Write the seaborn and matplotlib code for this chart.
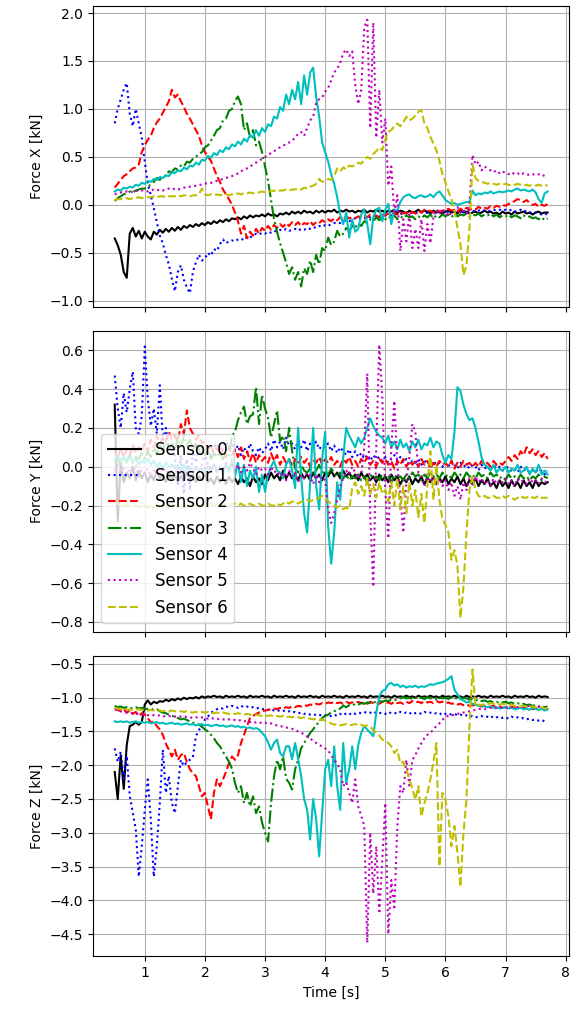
import numpy as np
import matplotlib
matplotlib.use("Agg")
import matplotlib.pyplot as plt
import seaborn as sns

# sample times [s], one reading every 0.05 s
time = np.linspace(0.5, 7.7, 145)

sensor_names = ["Sensor 0", "Sensor 1", "Sensor 2", "Sensor 3", "Sensor 4", "Sensor 5", "Sensor 6"]

### Force X [kN] ###
fx_s0 = [-0.35, -0.42, -0.52, -0.70, -0.76, -0.30, -0.24, -0.33, -0.27, -0.35,
         -0.28, -0.33, -0.36, -0.28, -0.31, -0.26, -0.29, -0.25, -0.28, -0.24,
         -0.27, -0.23, -0.26, -0.22, -0.24, -0.21, -0.23, -0.20, -0.22, -0.19,
         -0.21, -0.18, -0.20, -0.17, -0.19, -0.16, -0.18, -0.15, -0.17, -0.14,
         -0.15, -0.13, -0.15, -0.12, -0.14, -0.11, -0.13, -0.11, -0.12, -0.10,
         -0.12, -0.09, -0.11, -0.10, -0.12, -0.09, -0.10, -0.08, -0.10, -0.07,
         -0.09, -0.07, -0.09, -0.06, -0.08, -0.07, -0.09, -0.06, -0.08, -0.06,
         -0.08, -0.06, -0.07, -0.05, -0.08, -0.06, -0.07, -0.05, -0.07, -0.06,
         -0.08, -0.06, -0.07, -0.05, -0.08, -0.06, -0.07, -0.05, -0.07, -0.06,
         -0.08, -0.06, -0.07, -0.05, -0.08, -0.06, -0.07, -0.09, -0.06, -0.08,
         -0.07, -0.05, -0.08, -0.06, -0.07, -0.09, -0.06, -0.08, -0.07, -0.09,
         -0.07, -0.06, -0.08, -0.07, -0.09, -0.06, -0.08, -0.07, -0.09, -0.08,
         -0.07, -0.09, -0.08, -0.06, -0.08, -0.07, -0.09, -0.08, -0.10, -0.07,
         -0.09, -0.08, -0.10, -0.07, -0.09, -0.08, -0.07, -0.09, -0.08, -0.10,
         -0.08, -0.07, -0.09, -0.08, -0.08]
fx_s1 = [0.85, 1.00, 1.10, 1.20, 1.27, 0.95, 0.82, 1.00, 0.85, 0.70,
         0.45, 0.22, 0.10, -0.03, -0.18, -0.32, -0.40, -0.52, -0.62, -0.77,
         -0.90, -0.70, -0.63, -0.78, -0.86, -0.92, -0.70, -0.60, -0.52, -0.58,
         -0.56, -0.50, -0.53, -0.46, -0.48, -0.41, -0.36, -0.40, -0.38, -0.37,
         -0.38, -0.36, -0.35, -0.37, -0.33, -0.34, -0.32, -0.30, -0.31, -0.29,
         -0.30, -0.28, -0.29, -0.27, -0.28, -0.26, -0.27, -0.25, -0.27, -0.26,
         -0.25, -0.27, -0.25, -0.26, -0.24, -0.25, -0.23, -0.24, -0.22, -0.23,
         -0.21, -0.22, -0.20, -0.19, -0.18, -0.19, -0.17, -0.16, -0.17, -0.15,
         -0.14, -0.15, -0.13, -0.14, -0.12, -0.13, -0.12, -0.11, -0.12, -0.11,
         -0.11, -0.10, -0.11, -0.09, -0.10, -0.09, -0.10, -0.08, -0.09, -0.08,
         -0.09, -0.08, -0.07, -0.09, -0.08, -0.07, -0.08, -0.07, -0.08, -0.07,
         -0.08, -0.07, -0.06, -0.07, -0.06, -0.08, -0.07, -0.06, -0.07, -0.06,
         -0.07, -0.06, -0.05, -0.06, -0.07, -0.06, -0.05, -0.06, -0.05, -0.06,
         -0.05, -0.06, -0.05, -0.07, -0.06, -0.05, -0.07, -0.06, -0.08, -0.07,
         -0.08, -0.09, -0.10, -0.09, -0.10]
fx_s2 = [0.18, 0.22, 0.26, 0.30, 0.32, 0.35, 0.38, 0.39, 0.42, 0.55,
         0.62, 0.68, 0.72, 0.80, 0.86, 0.90, 0.96, 1.02, 1.08, 1.20,
         1.12, 1.15, 1.08, 1.02, 0.95, 0.90, 0.84, 0.78, 0.72, 0.62,
         0.55, 0.50, 0.46, 0.38, 0.30, 0.24, 0.16, 0.11, 0.06, 0.00,
         -0.08, -0.17, -0.30, -0.22, -0.35, -0.28, -0.32, -0.25, -0.30, -0.24,
         -0.27, -0.22, -0.26, -0.21, -0.24, -0.20, -0.23, -0.19, -0.22, -0.18,
         -0.21, -0.18, -0.22, -0.19, -0.20, -0.17, -0.21, -0.18, -0.19, -0.16,
         -0.18, -0.15, -0.17, -0.14, -0.16, -0.13, -0.15, -0.12, -0.14, -0.13,
         -0.14, -0.12, -0.13, -0.11, -0.13, -0.10, -0.12, -0.11, -0.13, -0.10,
         -0.11, -0.09, -0.10, -0.08, -0.10, -0.07, -0.09, -0.08, -0.10, -0.07,
         -0.09, -0.06, -0.08, -0.05, -0.07, -0.06, -0.08, -0.05, -0.07, -0.06,
         -0.06, -0.04, -0.06, -0.05, -0.07, -0.04, -0.06, -0.03, -0.05, -0.04,
         -0.05, -0.02, -0.04, -0.03, -0.04, -0.01, -0.03, -0.01, -0.02, 0.00,
         -0.01, 0.01, 0.02, 0.04, 0.06, 0.05, 0.03, 0.05, 0.02, 0.00,
         0.01, -0.02, 0.00, -0.01, 0.01]
fx_s3 = [0.04, 0.07, 0.09, 0.11, 0.12, 0.14, 0.13, 0.15, 0.16, 0.17,
         0.17, 0.19, 0.21, 0.24, 0.28, 0.26, 0.31, 0.30, 0.35, 0.34,
         0.38, 0.37, 0.41, 0.40, 0.45, 0.44, 0.48, 0.50, 0.53, 0.55,
         0.60, 0.62, 0.67, 0.72, 0.78, 0.80, 0.88, 0.90, 0.98, 1.00,
         1.08, 1.13, 1.05, 0.78, 0.85, 0.70, 0.78, 0.62, 0.66, 0.55,
         0.40, 0.25, 0.05, -0.15, -0.28, -0.40, -0.50, -0.60, -0.72, -0.65,
         -0.78, -0.70, -0.85, -0.66, -0.72, -0.58, -0.70, -0.52, -0.62, -0.45,
         -0.48, -0.34, -0.42, -0.38, -0.27, -0.33, -0.30, -0.24, -0.27, -0.22,
         -0.24, -0.19, -0.22, -0.17, -0.19, -0.15, -0.17, -0.13, -0.16, -0.12,
         -0.15, -0.12, -0.14, -0.11, -0.15, -0.12, -0.14, -0.11, -0.13, -0.12,
         -0.15, -0.12, -0.14, -0.11, -0.13, -0.10, -0.14, -0.11, -0.13, -0.10,
         -0.12, -0.10, -0.13, -0.09, -0.12, -0.10, -0.11, -0.09, -0.12, -0.10,
         -0.11, -0.09, -0.12, -0.10, -0.11, -0.09, -0.12, -0.10, -0.13, -0.11,
         -0.12, -0.10, -0.13, -0.11, -0.12, -0.14, -0.11, -0.13, -0.12, -0.14,
         -0.13, -0.15, -0.13, -0.16, -0.14]
fx_s4 = [0.14, 0.16, 0.15, 0.18, 0.17, 0.19, 0.18, 0.21, 0.20, 0.23,
         0.22, 0.25, 0.24, 0.27, 0.26, 0.29, 0.28, 0.31, 0.30, 0.34,
         0.33, 0.36, 0.35, 0.39, 0.37, 0.41, 0.40, 0.44, 0.42, 0.47,
         0.46, 0.51, 0.49, 0.54, 0.52, 0.57, 0.55, 0.60, 0.58, 0.63,
         0.61, 0.66, 0.63, 0.69, 0.66, 0.73, 0.70, 0.78, 0.72, 0.80,
         0.76, 0.84, 0.82, 0.92, 0.90, 1.02, 0.98, 1.15, 1.05, 1.20,
         1.10, 1.28, 1.05, 1.35, 1.15, 1.38, 1.43, 1.13, 0.92, 0.65,
         0.55, 0.45, 0.32, 0.22, 0.08, -0.10, -0.20, -0.08, -0.34, -0.15,
         -0.28, -0.25, -0.10, -0.05, -0.20, -0.41, -0.13, -0.05, -0.03, -0.17,
         -0.05, 0.01, -0.20, -0.05, -0.06, 0.03, 0.08, 0.10, 0.11, 0.08,
         0.07, 0.09, 0.10, 0.08, 0.09, 0.11, 0.08, 0.12, 0.14, 0.10,
         0.05, 0.03, 0.01, 0.02, 0.00, 0.01, 0.02, 0.03, 0.03, 0.15,
         0.10, 0.12, 0.11, 0.13, 0.12, 0.14, 0.12, 0.13, 0.14, 0.13,
         0.14, 0.15, 0.14, 0.16, 0.17, 0.15, 0.16, 0.15, 0.14, 0.16,
         0.13, 0.06, 0.02, 0.12, 0.14]
fx_s5 = [0.11, 0.12, 0.13, 0.13, 0.14, 0.13, 0.14, 0.15, 0.14, 0.15,
         0.15, 0.14, 0.15, 0.16, 0.15, 0.16, 0.15, 0.16, 0.17, 0.16,
         0.17, 0.16, 0.17, 0.18, 0.18, 0.19, 0.19, 0.20, 0.21, 0.21,
         0.22, 0.23, 0.23, 0.24, 0.25, 0.26, 0.27, 0.28, 0.29, 0.30,
         0.31, 0.33, 0.35, 0.37, 0.38, 0.40, 0.42, 0.44, 0.46, 0.48,
         0.50, 0.52, 0.54, 0.56, 0.58, 0.60, 0.62, 0.63, 0.65, 0.67,
         0.70, 0.74, 0.76, 0.72, 0.80, 0.88, 0.92, 1.06, 1.10, 1.12,
         1.18, 1.22, 1.30, 1.38, 1.42, 1.48, 1.58, 1.62, 1.55, 1.60,
         1.25, 1.05, 1.20, 1.85, 1.93, 0.80, 1.90, 0.70, 1.20, 0.65,
         0.90, 0.20, 0.40, -0.10, 0.10, -0.48, -0.15, -0.38, -0.10, -0.45,
         -0.25, -0.45, -0.15, -0.48, -0.20, -0.40, -0.13, -0.05, -0.10, -0.05,
         -0.07, -0.12, -0.08, -0.05, -0.02, -0.08, -0.05, -0.10, 0.00, 0.52,
         0.42, 0.45, 0.36, 0.40, 0.38, 0.36, 0.34, 0.36, 0.33, 0.35,
         0.33, 0.32, 0.34, 0.32, 0.33, 0.31, 0.33, 0.32, 0.31, 0.32,
         0.31, 0.32, 0.30, 0.31, 0.30]
fx_s6 = [0.05, 0.06, 0.06, 0.06, 0.07, 0.06, 0.07, 0.07, 0.08, 0.07,
         0.08, 0.08, 0.08, 0.09, 0.08, 0.09, 0.09, 0.08, 0.09, 0.09,
         0.09, 0.10, 0.09, 0.10, 0.10, 0.09, 0.10, 0.10, 0.11, 0.17,
         0.11, 0.10, 0.11, 0.10, 0.11, 0.10, 0.11, 0.11, 0.10, 0.11,
         0.11, 0.12, 0.11, 0.12, 0.12, 0.13, 0.12, 0.13, 0.13, 0.14,
         0.13, 0.14, 0.14, 0.15, 0.14, 0.15, 0.15, 0.16, 0.15, 0.16,
         0.16, 0.17, 0.16, 0.18, 0.17, 0.19, 0.20, 0.22, 0.27, 0.24,
         0.25, 0.27, 0.26, 0.30, 0.38, 0.35, 0.39, 0.37, 0.41, 0.40,
         0.42, 0.44, 0.43, 0.47, 0.50, 0.48, 0.53, 0.56, 0.60, 0.57,
         0.68, 0.76, 0.78, 0.82, 0.85, 0.82, 0.86, 0.92, 0.88, 0.90,
         0.93, 0.97, 0.99, 0.85, 0.80, 0.71, 0.64, 0.57, 0.46, 0.32,
         0.24, 0.14, 0.06, -0.06, -0.24, -0.41, -0.73, -0.63, -0.24, 0.42,
         0.28, 0.25, 0.24, 0.23, 0.22, 0.23, 0.22, 0.21, 0.22, 0.21,
         0.22, 0.21, 0.20, 0.21, 0.22, 0.21, 0.20, 0.21, 0.20, 0.21,
         0.20, 0.21, 0.20, 0.21, 0.20]

### Force Y [kN] ###
fy_s0 = [0.32, -0.28, 0.02, -0.08, -0.03, -0.06, 0.00, -0.07, -0.02, -0.06,
         -0.03, -0.08, -0.04, -0.07, -0.02, -0.06, -0.04, -0.08, -0.03, -0.07,
         -0.04, -0.08, -0.05, -0.07, -0.03, -0.06, -0.04, -0.08, -0.05, -0.07,
         -0.04, -0.08, -0.06, -0.09, -0.05, -0.08, -0.06, -0.09, -0.05, -0.08,
         -0.06, -0.09, -0.05, -0.08, -0.06, -0.10, -0.05, -0.08, -0.06, -0.09,
         -0.04, -0.07, -0.03, -0.06, -0.04, -0.07, -0.02, -0.06, -0.03, -0.06,
         -0.04, -0.07, -0.03, -0.06, -0.04, -0.07, -0.03, -0.06, -0.04, -0.07,
         -0.03, -0.05, -0.02, -0.05, -0.03, -0.06, -0.02, -0.05, -0.03, -0.06,
         -0.04, -0.07, -0.03, -0.06, -0.04, -0.07, -0.05, -0.08, -0.04, -0.07,
         -0.05, -0.08, -0.04, -0.07, -0.05, -0.09, -0.06, -0.08, -0.05, -0.09,
         -0.06, -0.08, -0.05, -0.09, -0.06, -0.08, -0.05, -0.09, -0.06, -0.08,
         -0.05, -0.09, -0.06, -0.08, -0.05, -0.09, -0.06, -0.10, -0.07, -0.09,
         -0.06, -0.10, -0.07, -0.09, -0.06, -0.10, -0.08, -0.11, -0.07, -0.10,
         -0.08, -0.11, -0.07, -0.10, -0.08, -0.11, -0.07, -0.10, -0.08, -0.11,
         -0.07, -0.10, -0.08, -0.09, -0.08]
fy_s1 = [0.47, 0.30, 0.20, 0.38, 0.28, 0.40, 0.49, 0.20, 0.17, 0.26,
         0.62, 0.35, 0.21, 0.30, 0.17, 0.42, 0.14, 0.20, 0.08, 0.12,
         0.05, -0.10, 0.06, -0.14, 0.04, -0.12, 0.08, 0.02, 0.09, 0.05,
         0.03, 0.08, 0.06, 0.10, 0.12, 0.09, 0.11, 0.13, 0.10, 0.12,
         0.08, 0.11, 0.06, 0.10, 0.07, 0.12, 0.08, 0.06, 0.10, 0.07,
         0.09, 0.12, 0.08, 0.14, 0.10, 0.13, 0.09, 0.15, 0.11, 0.12,
         0.09, 0.13, 0.10, 0.14, 0.08, 0.12, 0.10, 0.13, 0.09, 0.11,
         0.10, 0.12, 0.08, 0.11, 0.07, 0.10, 0.08, 0.06, 0.09, 0.05,
         0.08, 0.05, 0.07, 0.04, 0.06, 0.03, 0.06, 0.04, 0.05, 0.03,
         0.05, 0.02, 0.04, 0.06, 0.03, 0.05, 0.02, 0.04, 0.01, 0.03,
         0.02, 0.04, 0.01, 0.03, 0.02, 0.00, 0.03, 0.01, 0.02, 0.00,
         0.02, 0.00, 0.03, 0.01, -0.01, 0.02, 0.00, 0.01, -0.01, 0.01,
         0.00, -0.02, 0.01, -0.01, 0.00, -0.02, 0.01, -0.01, 0.00, -0.02,
         -0.01, 0.00, -0.02, -0.01, -0.03, 0.00, -0.02, -0.01, -0.03, -0.02,
         -0.01, -0.03, -0.02, -0.04, -0.02]
fy_s2 = [0.08, 0.04, 0.10, 0.05, 0.09, 0.06, 0.11, 0.07, 0.10, 0.08,
         0.12, 0.08, 0.14, 0.10, 0.16, 0.12, 0.15, 0.13, 0.18, 0.14,
         0.16, 0.13, 0.22, 0.17, 0.29, 0.20, 0.17, 0.14, 0.16, 0.12,
         0.13, 0.09, 0.11, 0.07, 0.10, 0.06, 0.09, 0.05, 0.10, 0.06,
         0.09, 0.05, 0.10, 0.04, 0.08, 0.03, 0.07, 0.02, 0.06, 0.03,
         0.05, 0.02, 0.07, 0.03, 0.06, 0.01, 0.05, 0.02, 0.04, 0.01,
         0.04, 0.01, 0.05, 0.02, 0.04, 0.00, 0.03, 0.02, 0.05, 0.01,
         0.04, 0.02, 0.05, 0.01, 0.03, 0.00, 0.04, 0.02, 0.05, 0.01,
         0.03, 0.00, 0.04, 0.02, 0.05, 0.01, 0.03, 0.00, 0.04, 0.02,
         0.04, 0.01, 0.03, -0.01, 0.03, 0.01, 0.04, 0.00, 0.03, 0.01,
         0.03, 0.00, 0.04, 0.01, 0.03, -0.01, 0.02, 0.00, 0.03, 0.01,
         0.02, 0.00, 0.03, -0.01, 0.02, 0.00, 0.03, 0.01, 0.02, 0.00,
         0.02, 0.00, 0.03, 0.01, 0.02, 0.00, 0.03, 0.01, 0.02, 0.01,
         0.03, 0.05, 0.03, 0.06, 0.04, 0.08, 0.06, 0.10, 0.07, 0.09,
         0.06, 0.08, 0.05, 0.07, 0.04]
fy_s3 = [0.02, 0.04, 0.01, 0.05, 0.03, 0.06, 0.02, 0.05, 0.04, 0.07,
         0.04, 0.08, 0.05, 0.10, 0.06, 0.12, 0.08, 0.14, 0.09, 0.12,
         0.08, 0.15, 0.10, 0.16, 0.11, 0.14, 0.08, 0.12, 0.07, 0.10,
         0.06, 0.09, 0.04, 0.07, 0.05, 0.08, 0.04, 0.06, 0.05, 0.16,
         0.18, 0.24, 0.28, 0.31, 0.22, 0.26, 0.27, 0.41, 0.22, 0.37,
         0.30, 0.25, 0.15, 0.22, 0.29, 0.13, 0.16, 0.08, 0.20, 0.08,
         -0.01, -0.03, 0.01, -0.02, -0.03, -0.01, -0.04, -0.02, 0.01, -0.03,
         -0.02, -0.04, -0.01, -0.03, -0.05, -0.03, -0.06, -0.04, -0.07, -0.05,
         -0.06, -0.04, -0.07, -0.05, -0.08, -0.04, -0.06, -0.05, -0.07, -0.04,
         -0.06, -0.05, -0.08, -0.04, -0.06, -0.05, -0.07, -0.04, -0.06, -0.03,
         -0.05, -0.04, -0.07, -0.04, -0.06, -0.03, -0.05, -0.04, -0.06, -0.03,
         -0.05, -0.04, -0.06, -0.03, -0.05, -0.04, -0.06, -0.03, -0.05, -0.04,
         -0.06, -0.03, -0.05, -0.04, -0.06, -0.03, -0.05, -0.04, -0.06, -0.05,
         -0.07, -0.04, -0.06, -0.05, -0.07, -0.04, -0.06, -0.05, -0.07, -0.05,
         -0.06, -0.04, -0.07, -0.05, -0.06]
fy_s4 = [0.04, 0.06, 0.03, 0.05, 0.02, 0.05, 0.03, 0.04, 0.01, 0.03,
         0.02, 0.04, 0.01, 0.03, 0.00, 0.02, -0.01, 0.02, 0.00, 0.01,
         -0.01, 0.01, -0.02, 0.01, -0.02, 0.00, -0.03, 0.00, -0.02, -0.01,
         -0.03, 0.00, -0.02, 0.01, -0.03, 0.00, -0.04, 0.02, -0.03, 0.04,
         -0.05, 0.02, -0.08, 0.01, -0.10, -0.02, -0.06, 0.00, -0.13, -0.04,
         -0.13, -0.04, 0.00, 0.03, -0.02, -0.03, -0.06, 0.01, 0.04, -0.02,
         -0.11, 0.20, -0.05, -0.24, -0.34, -0.08, 0.20, -0.10, -0.22, 0.04,
         0.18, -0.31, -0.50, -0.34, -0.08, -0.17, 0.05, 0.20, 0.16, 0.13,
         0.10, 0.15, 0.12, 0.15, 0.20, 0.25, 0.21, 0.18, 0.16, 0.15,
         0.12, 0.16, 0.10, 0.13, 0.09, 0.14, 0.10, 0.12, 0.08, 0.13,
         0.10, 0.14, 0.09, 0.12, 0.11, 0.15, 0.10, 0.13, 0.12, 0.06,
         0.02, 0.06, 0.04, 0.18, 0.41, 0.39, 0.32, 0.27, 0.24, 0.25,
         0.20, 0.13, 0.05, 0.01, 0.00, -0.02, 0.01, -0.03, -0.01, -0.02,
         0.00, -0.03, -0.01, -0.02, 0.01, -0.03, -0.02, 0.00, -0.04, -0.01,
         -0.03, 0.01, -0.04, -0.02, -0.04]
fy_s5 = [-0.02, 0.01, -0.03, 0.00, -0.04, -0.01, -0.03, 0.01, -0.05, -0.02,
         -0.04, -0.01, -0.05, -0.02, -0.04, 0.00, -0.03, -0.01, -0.05, -0.02,
         -0.04, -0.01, -0.05, -0.02, -0.04, -0.01, -0.03, 0.00, -0.02, 0.01,
         -0.01, 0.02, -0.02, 0.01, -0.03, 0.00, -0.02, 0.02, -0.01, 0.01,
         -0.02, 0.01, -0.03, 0.00, -0.02, 0.02, -0.01, -0.04, 0.00, -0.02,
         -0.01, -0.04, 0.00, -0.03, -0.02, -0.05, -0.03, -0.07, -0.02, -0.05,
         -0.03, -0.08, -0.04, -0.06, -0.03, -0.05, -0.09, -0.04, -0.08, -0.05,
         -0.07, -0.22, -0.29, -0.24, -0.17, -0.10, -0.06, -0.02, -0.04, 0.00,
         -0.03, -0.06, -0.04, 0.10, 0.48, -0.25, -0.62, 0.10, 0.63, 0.36,
         -0.13, -0.37, 0.10, 0.34, 0.01, -0.15, -0.34, -0.08, 0.05, 0.22,
         0.18, -0.03, -0.06, -0.10, -0.04, -0.08, -0.05, -0.09, -0.06, -0.10,
         -0.07, -0.12, -0.08, -0.15, -0.10, -0.17, -0.08, -0.12, -0.06, -0.10,
         -0.05, -0.08, -0.06, -0.09, -0.07, -0.10, -0.06, -0.09, -0.07, -0.08,
         -0.06, -0.09, -0.07, -0.10, -0.06, -0.08, -0.07, -0.09, -0.06, -0.08,
         -0.07, -0.09, -0.06, -0.08, -0.07]
fy_s6 = [-0.18, -0.19, -0.20, -0.19, -0.20, -0.20, -0.21, -0.20, -0.21, -0.20,
         -0.20, -0.21, -0.20, -0.21, -0.20, -0.20, -0.21, -0.20, -0.21, -0.20,
         -0.20, -0.21, -0.20, -0.21, -0.20, -0.20, -0.19, -0.20, -0.19, -0.20,
         -0.19, -0.20, -0.19, -0.20, -0.20, -0.19, -0.20, -0.19, -0.20, -0.19,
         -0.19, -0.20, -0.19, -0.20, -0.20, -0.19, -0.20, -0.20, -0.19, -0.20,
         -0.20, -0.19, -0.20, -0.20, -0.19, -0.20, -0.19, -0.18, -0.19, -0.18,
         -0.18, -0.19, -0.18, -0.18, -0.17, -0.18, -0.17, -0.17, -0.16, -0.15,
         -0.16, -0.18, -0.19, -0.20, -0.21, -0.20, -0.22, -0.21, -0.22, -0.11,
         -0.08, -0.14, -0.10, -0.15, -0.06, -0.14, -0.09, -0.16, -0.08, -0.14,
         -0.12, -0.18, -0.08, -0.20, -0.06, -0.22, -0.10, -0.24, -0.08, -0.20,
         -0.12, -0.26, -0.14, -0.29, -0.10, 0.08, -0.17, 0.01, -0.17, -0.27,
         -0.30, -0.34, -0.48, -0.43, -0.51, -0.78, -0.62, -0.34, -0.12, -0.05,
         -0.12, -0.15, -0.16, -0.15, -0.16, -0.16, -0.15, -0.16, -0.16, -0.15,
         -0.16, -0.15, -0.16, -0.17, -0.16, -0.15, -0.16, -0.16, -0.15, -0.16,
         -0.16, -0.15, -0.16, -0.16, -0.16]

### Force Z [kN] ###
fz_s0 = [-2.10, -2.50, -1.85, -2.35, -1.70, -1.42, -1.40, -1.36, -1.40, -1.36,
         -1.10, -1.04, -1.10, -1.06, -1.08, -1.05, -1.06, -1.03, -1.05, -1.02,
         -1.04, -1.01, -1.03, -1.00, -1.02, -1.00, -1.01, -0.99, -1.01, -0.98,
         -1.00, -0.98, -0.99, -0.97, -0.99, -0.98, -1.00, -0.97, -0.99, -0.98,
         -0.99, -0.97, -0.99, -0.98, -1.00, -0.97, -0.99, -0.98, -0.99, -0.97,
         -0.99, -0.98, -1.00, -0.97, -0.99, -0.98, -0.99, -0.97, -0.99, -0.98,
         -1.00, -0.97, -0.99, -0.98, -0.99, -0.97, -0.99, -0.98, -1.00, -0.97,
         -0.99, -0.98, -0.99, -0.97, -0.99, -0.98, -1.00, -0.97, -0.99, -0.98,
         -0.99, -0.97, -0.99, -0.98, -1.00, -0.97, -0.99, -0.98, -0.99, -0.97,
         -0.99, -0.98, -1.00, -0.97, -0.99, -0.98, -0.99, -0.97, -0.99, -0.98,
         -1.00, -0.97, -0.99, -0.98, -0.99, -0.97, -0.99, -0.98, -1.00, -0.97,
         -0.99, -0.98, -0.99, -0.97, -0.99, -0.98, -1.00, -0.97, -0.99, -0.98,
         -0.99, -0.97, -0.99, -0.98, -1.00, -0.97, -0.99, -0.98, -0.99, -0.97,
         -0.99, -0.98, -1.00, -0.97, -0.99, -0.98, -0.99, -0.97, -0.99, -0.98,
         -1.00, -0.97, -0.99, -0.98, -0.99]
fz_s1 = [-1.75, -1.95, -1.80, -2.20, -1.86, -2.45, -2.70, -2.95, -3.65, -3.20,
         -2.66, -2.21, -2.80, -3.65, -3.20, -2.56, -1.77, -2.41, -2.16, -2.56,
         -2.71, -2.31, -1.92, -2.01, -1.95, -1.92, -1.88, -1.57, -1.48, -1.42,
         -1.32, -1.28, -1.22, -1.20, -1.17, -1.15, -1.16, -1.13, -1.14, -1.12,
         -1.13, -1.15, -1.12, -1.14, -1.13, -1.15, -1.14, -1.16, -1.15, -1.17,
         -1.16, -1.18, -1.17, -1.19, -1.18, -1.20, -1.19, -1.21, -1.20, -1.22,
         -1.21, -1.23, -1.22, -1.24, -1.23, -1.25, -1.24, -1.26, -1.25, -1.27,
         -1.26, -1.28, -1.27, -1.25, -1.27, -1.24, -1.26, -1.23, -1.25, -1.22,
         -1.24, -1.22, -1.23, -1.21, -1.23, -1.22, -1.24, -1.21, -1.23, -1.22,
         -1.24, -1.21, -1.23, -1.22, -1.24, -1.21, -1.23, -1.22, -1.24, -1.21,
         -1.23, -1.22, -1.24, -1.21, -1.23, -1.22, -1.24, -1.23, -1.25, -1.22,
         -1.24, -1.23, -1.25, -1.24, -1.26, -1.25, -1.27, -1.26, -1.28, -1.27,
         -1.29, -1.28, -1.27, -1.29, -1.28, -1.30, -1.27, -1.29, -1.28, -1.30,
         -1.29, -1.31, -1.28, -1.30, -1.29, -1.31, -1.30, -1.32, -1.31, -1.33,
         -1.32, -1.34, -1.33, -1.35, -1.34]
fz_s2 = [-1.15, -1.18, -1.20, -1.17, -1.22, -1.19, -1.24, -1.21, -1.27, -1.23,
         -1.25, -1.30, -1.37, -1.35, -1.42, -1.47, -1.55, -1.68, -1.77, -1.87,
         -1.77, -1.92, -1.85, -1.82, -1.95, -2.06, -2.12, -2.16, -2.31, -2.46,
         -2.41, -2.61, -2.80, -2.41, -2.21, -2.31, -2.21, -2.10, -1.97, -1.87,
         -1.92, -1.85, -1.67, -1.55, -1.42, -1.30, -1.27, -1.24, -1.22, -1.20,
         -1.19, -1.18, -1.17, -1.16, -1.17, -1.15, -1.16, -1.14, -1.15, -1.13,
         -1.14, -1.12, -1.13, -1.11, -1.12, -1.10, -1.11, -1.09, -1.10, -1.08,
         -1.09, -1.07, -1.08, -1.06, -1.08, -1.07, -1.09, -1.06, -1.08, -1.07,
         -1.08, -1.06, -1.08, -1.07, -1.09, -1.06, -1.08, -1.07, -1.09, -1.06,
         -1.08, -1.07, -1.09, -1.06, -1.08, -1.07, -1.09, -1.06, -1.08, -1.05,
         -1.07, -1.06, -1.08, -1.05, -1.07, -1.06, -1.08, -1.05, -1.07, -1.06,
         -1.08, -1.07, -1.09, -1.08, -1.10, -1.09, -1.11, -1.10, -1.12, -1.11,
         -1.12, -1.11, -1.13, -1.12, -1.14, -1.13, -1.12, -1.14, -1.13, -1.15,
         -1.14, -1.13, -1.15, -1.14, -1.16, -1.15, -1.14, -1.16, -1.15, -1.17,
         -1.16, -1.15, -1.17, -1.16, -1.18]
fz_s3 = [-1.12, -1.14, -1.13, -1.15, -1.14, -1.16, -1.15, -1.14, -1.16, -1.15,
         -1.16, -1.17, -1.16, -1.18, -1.17, -1.20, -1.22, -1.23, -1.25, -1.27,
         -1.28, -1.30, -1.32, -1.31, -1.33, -1.35, -1.37, -1.37, -1.40, -1.43,
         -1.47, -1.50, -1.55, -1.60, -1.67, -1.72, -1.80, -1.87, -1.95, -2.05,
         -2.26, -2.41, -2.31, -2.56, -2.41, -2.61, -2.46, -2.71, -2.61, -2.85,
         -3.00, -3.13, -2.56, -2.16, -1.92, -2.06, -1.87, -2.20, -2.26, -2.36,
         -2.06, -1.92, -1.75, -1.67, -1.60, -1.52, -1.47, -1.40, -1.37, -1.30,
         -1.27, -1.25, -1.22, -1.20, -1.18, -1.16, -1.12, -1.14, -1.11, -1.12,
         -1.09, -1.10, -1.08, -1.09, -1.07, -1.08, -1.06, -1.07, -1.05, -1.06,
         -1.04, -1.05, -1.03, -1.04, -1.02, -1.01, -0.99, -1.01, -1.00, -1.02,
         -0.99, -1.01, -1.00, -1.02, -0.99, -1.01, -1.00, -1.02, -0.99, -1.01,
         -1.00, -1.02, -0.99, -1.01, -1.00, -1.02, -1.00, -1.01, -1.03, -1.02,
         -1.04, -1.03, -1.05, -1.04, -1.06, -1.05, -1.07, -1.06, -1.08, -1.07,
         -1.06, -1.08, -1.07, -1.09, -1.08, -1.10, -1.09, -1.11, -1.10, -1.12,
         -1.11, -1.13, -1.12, -1.14, -1.13]
fz_s4 = [-1.35, -1.36, -1.35, -1.36, -1.35, -1.37, -1.36, -1.35, -1.37, -1.36,
         -1.37, -1.36, -1.38, -1.37, -1.36, -1.38, -1.37, -1.39, -1.38, -1.37,
         -1.39, -1.38, -1.40, -1.39, -1.38, -1.40, -1.39, -1.41, -1.40, -1.39,
         -1.41, -1.40, -1.42, -1.41, -1.40, -1.42, -1.41, -1.43, -1.42, -1.41,
         -1.43, -1.42, -1.44, -1.43, -1.45, -1.44, -1.46, -1.45, -1.47, -1.52,
         -1.57, -1.66, -1.77, -1.67, -1.62, -1.82, -1.87, -1.72, -1.72, -1.91,
         -1.67, -1.90, -2.16, -2.50, -2.66, -3.10, -2.50, -2.80, -3.35, -2.71,
         -2.06, -1.92, -2.31, -1.72, -2.31, -2.66, -1.67, -2.26, -2.06, -1.72,
         -2.06, -1.70, -1.52, -1.42, -1.47, -1.52, -1.57, -1.22, -0.98, -0.90,
         -0.88, -0.80, -0.78, -0.82, -0.80, -0.84, -0.82, -0.85, -0.83, -0.84,
         -0.82, -0.85, -0.83, -0.84, -0.82, -0.80, -0.81, -0.79, -0.78, -0.77,
         -0.75, -0.72, -0.68, -0.88, -0.95, -1.02, -1.04, -1.07, -1.06, -1.09,
         -1.10, -1.12, -1.11, -1.13, -1.14, -1.13, -1.15, -1.14, -1.16, -1.15,
         -1.14, -1.16, -1.15, -1.17, -1.16, -1.15, -1.17, -1.16, -1.18, -1.15,
         -1.17, -1.18, -1.16, -1.19, -1.17]
fz_s5 = [-1.17, -1.19, -1.20, -1.21, -1.22, -1.22, -1.23, -1.24, -1.24, -1.25,
         -1.25, -1.26, -1.25, -1.26, -1.27, -1.26, -1.27, -1.28, -1.27, -1.28,
         -1.28, -1.27, -1.28, -1.29, -1.28, -1.29, -1.30, -1.29, -1.30, -1.29,
         -1.30, -1.31, -1.30, -1.31, -1.32, -1.31, -1.32, -1.33, -1.32, -1.33,
         -1.33, -1.34, -1.33, -1.35, -1.34, -1.36, -1.35, -1.37, -1.36, -1.38,
         -1.37, -1.39, -1.38, -1.40, -1.41, -1.42, -1.43, -1.44, -1.45, -1.46,
         -1.48, -1.50, -1.52, -1.54, -1.57, -1.60, -1.64, -1.67, -1.70, -1.72,
         -1.75, -1.78, -1.85, -1.92, -1.98, -2.06, -2.31, -2.25, -2.41, -2.56,
         -2.21, -2.61, -2.75, -2.90, -4.63, -3.00, -3.90, -3.20, -4.20, -3.40,
         -2.56, -4.50, -3.70, -4.14, -2.90, -2.31, -2.41, -1.92, -2.30, -1.92,
         -1.85, -1.75, -1.67, -1.60, -1.55, -1.52, -1.47, -1.42, -1.38, -1.33,
         -1.28, -1.27, -1.26, -1.25, -1.24, -1.23, -1.22, -1.21, -1.20, -1.19,
         -1.18, -1.17, -1.16, -1.17, -1.16, -1.15, -1.16, -1.15, -1.14, -1.15,
         -1.14, -1.15, -1.14, -1.13, -1.14, -1.13, -1.14, -1.13, -1.12, -1.13,
         -1.14, -1.13, -1.15, -1.14, -1.15]
fz_s6 = [-1.15, -1.16, -1.17, -1.16, -1.17, -1.18, -1.17, -1.18, -1.17, -1.18,
         -1.18, -1.19, -1.18, -1.19, -1.18, -1.19, -1.20, -1.19, -1.20, -1.19,
         -1.20, -1.21, -1.20, -1.21, -1.20, -1.21, -1.22, -1.21, -1.22, -1.21,
         -1.22, -1.21, -1.22, -1.23, -1.22, -1.23, -1.22, -1.23, -1.24, -1.23,
         -1.24, -1.23, -1.24, -1.25, -1.24, -1.25, -1.26, -1.25, -1.26, -1.27,
         -1.26, -1.27, -1.26, -1.28, -1.27, -1.28, -1.27, -1.29, -1.28, -1.29,
         -1.28, -1.29, -1.30, -1.29, -1.30, -1.31, -1.32, -1.31, -1.33, -1.32,
         -1.34, -1.36, -1.38, -1.40, -1.39, -1.41, -1.40, -1.39, -1.41, -1.40,
         -1.39, -1.41, -1.40, -1.42, -1.41, -1.43, -1.48, -1.52, -1.56, -1.62,
         -1.64, -1.67, -1.72, -1.82, -1.77, -1.97, -1.95, -2.06, -2.21, -2.35,
         -2.51, -2.31, -2.76, -2.56, -2.41, -2.21, -1.95, -1.67, -3.50, -2.41,
         -2.51, -2.76, -3.20, -2.90, -3.30, -3.80, -3.00, -2.51, -1.42, -0.58,
         -1.12, -1.10, -1.11, -1.09, -1.10, -1.08, -1.09, -1.08, -1.10, -1.09,
         -1.10, -1.11, -1.10, -1.12, -1.11, -1.13, -1.12, -1.13, -1.14, -1.13,
         -1.14, -1.15, -1.14, -1.16, -1.15]

force_x = [fx_s0, fx_s1, fx_s2, fx_s3, fx_s4, fx_s5, fx_s6]
force_y = [fy_s0, fy_s1, fy_s2, fy_s3, fy_s4, fy_s5, fy_s6]
force_z = [fz_s0, fz_s1, fz_s2, fz_s3, fz_s4, fz_s5, fz_s6]

# classic matplotlib colour letters + line style per sensor
colors = ["k", "b", "r", "g", "c", "m", "y"]
styles = ["-", ":", "--", "-.", "-", ":", "--"]

fig, axes = plt.subplots(3, 1, sharex=True, figsize=(5.71, 10.10))
fig.subplots_adjust(left=0.163, right=0.997, top=0.994, bottom=0.053, hspace=0.08)

panels = [(force_x, "Force X [kN]"), (force_y, "Force Y [kN]"), (force_z, "Force Z [kN]")]
for ax, (data, ylab) in zip(axes, panels):
    for name, vals, c, ls in zip(sensor_names, data, colors, styles):
        sns.lineplot(x=time, y=vals, ax=ax, color=c, linestyle=ls, linewidth=1.5,
                     label=name, legend=False)
    ax.set_ylabel(ylab)
    ax.grid(True)

axes[1].legend(loc="lower left", fontsize=12)
axes[2].set_xlabel("Time [s]")

plt.savefig("out.png", dpi=100)
